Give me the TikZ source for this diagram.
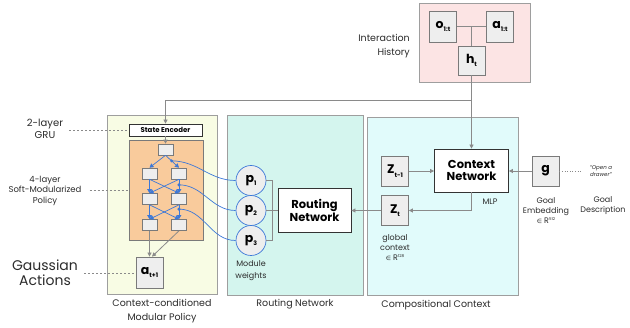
\documentclass[tikz,border=0pt]{standalone}
\usepackage{fontspec}
\setmainfont{Poppins}
\newfontfamily\symfont{DejaVu Sans}
\usetikzlibrary{arrows.meta,calc}

\definecolor{histfill}{HTML}{FCE4E4}
\definecolor{policyfill}{HTML}{F8FCE4}
\definecolor{modfill}{HTML}{F9CB9C}
\definecolor{routefill}{HTML}{D4F5EE}
\definecolor{ctxfill}{HTML}{E1FBFB}
\definecolor{boxfill}{HTML}{EEEEEE}
\definecolor{panelline}{HTML}{9E9E9E}
\definecolor{boxline}{HTML}{7A7A7A}
\definecolor{wire}{HTML}{8A8A8A}
\definecolor{modblue}{HTML}{3C78D8}
\definecolor{txt}{HTML}{2B2B2B}

% bold symbol with a small bold subscript
\newcommand{\symsub}[2]{{\fontsize{12.5}{12.5}\selectfont\bfseries #1\raisebox{-3.5pt}{\fontsize{6.2}{6.5}\selectfont #2}}}
\newcommand{\elemof}{{\symfont\fontsize{6}{6}\selectfont ∈}}

\tikzset{
  panel/.style={draw=panelline, line width=0.8pt, inner sep=0pt},
  vecbox/.style={draw=boxline, fill=boxfill, line width=0.8pt, minimum width=27pt, minimum height=30pt, inner sep=0pt},
  unit/.style={draw=boxline, fill=boxfill, line width=0.6pt, minimum width=15pt, minimum height=11pt, inner sep=0pt},
  netbox/.style={draw=black!80, fill=white, line width=0.8pt, minimum width=74pt, minimum height=43pt, inner sep=0pt, align=center, font=\fontsize{11.5}{12.5}\selectfont\bfseries},
  weight/.style={circle, draw=modblue, fill=boxfill, line width=0.7pt, minimum size=30pt, inner sep=0pt},
  lbl/.style={text=txt, align=center, inner sep=0pt},
  garr/.style={draw=wire, line width=0.8pt, -{Triangle[length=4pt,width=4pt]}},
  gline/.style={draw=wire, line width=0.8pt},
  barr/.style={draw=modblue, line width=0.7pt, -{Triangle[length=4pt,width=4.5pt]}},
  bline/.style={draw=modblue, line width=0.7pt},
  dashline/.style={draw=wire, line width=0.7pt, dash pattern=on 2pt off 2pt},
}

\begin{document}
\begin{tikzpicture}[x=1pt,y=-1pt]
\useasboundingbox (0,0) rectangle (630,328);

% ---------- panels ----------
\node[panel, fill=histfill, minimum width=111pt, minimum height=79pt] (hist) at (474.5,42.5) {};
\node[panel, fill=policyfill, minimum width=110pt, minimum height=179pt] (policy) at (162,204.5) {};
\node[panel, fill=routefill, minimum width=136pt, minimum height=180pt] (route) at (295,205) {};
\node[panel, fill=ctxfill, minimum width=151pt, minimum height=178pt] (ctx) at (442.5,206) {};

% ---------- interaction history ----------
\node[vecbox, minimum height=31pt] (o) at (443,26.5) {\symsub{o}{1:t}};
\node[vecbox, minimum height=31pt] (a) at (500,26.5) {\symsub{a}{1:t}};
\node[vecbox, minimum height=29pt] (h) at (471.5,60.5) {\symsub{h}{t}};
\draw[gline] (o.east) -- (a.west);
\coordinate (hmid) at ($(o.east)!0.5!(a.west)$);
\draw[gline] (hmid) -- (h.north);
\node[lbl, align=right, anchor=east, font=\fontsize{9.5}{14}\selectfont] (histlbl) at (410,46) {Interaction\\History};

% ---------- compositional context ----------
\node[netbox] (cn) at (471.5,170.5) {Context\\Network};
\node[vecbox] (zp) at (395,171) {\symsub{Z}{t-1}};
\node[vecbox] (zt) at (395,210.5) {\symsub{Z}{t}};
\node[vecbox] (g) at (545.5,171) {{\fontsize{12.5}{12.5}\selectfont\bfseries g}};
\node[lbl, font=\fontsize{8}{10}\selectfont] (mlp) at (490,202) {MLP};
\node[lbl, font=\fontsize{8}{10}\selectfont] (glob) at (395,248) {global\\context\\\elemof{} R\raisebox{3pt}{\fontsize{4}{4}\selectfont 128}};
\node[lbl, font=\fontsize{8}{10}\selectfont] (gemb) at (546,211) {Goal\\Embedding\\\elemof{} R\raisebox{3pt}{\fontsize{4}{4}\selectfont 512}};
\node[lbl, font=\fontsize{8}{10}\selectfont] (gdesc) at (603,206) {Goal\\Description};
\node[lbl, font=\fontsize{5.5}{7.5}\selectfont\itshape] (instr) at (601,171) {“Open a\\drawer”};
\draw[draw=wire, line width=0.6pt, dotted] (g.east) -- ([xshift=-9pt]instr.west);
\node[lbl, font=\fontsize{9.5}{14}\selectfont] at (436,305) {Compositional Context};

% ---------- routing network ----------
\node[netbox, minimum width=73pt, minimum height=44pt] (rn) at (314.5,210.5) {Routing\\Network};
\node[weight] (p1) at (251,180.5) {\symsub{p}{1}};
\node[weight] (p2) at (251,210.5) {\symsub{p}{2}};
\node[weight] (p3) at (251,240.5) {\symsub{p}{3}};
\coordinate (bus) at (272,210.5);
\draw[gline] (p1.east) -- (p1.east -| bus) -- (p3.east -| bus) -- (p3.east);
\draw[gline] (p2.east) -- (rn.west);
\node[lbl, font=\fontsize{8}{12}\selectfont] (mw) at (251,271) {Module\\weights};
\node[lbl, font=\fontsize{9.5}{14}\selectfont] at (295,304) {Routing Network};

% ---------- modular policy ----------
\node[draw=black!80, fill=white, line width=0.8pt, minimum width=73pt, minimum height=12pt, inner sep=0pt, font=\fontsize{7}{8}\selectfont\bfseries] (se) at (165.5,130) {State Encoder};
\node[draw=boxline, fill=modfill, line width=0.6pt, minimum width=74pt, minimum height=100pt, inner sep=0pt] (mods) at (166,190) {};
\node[unit] (T) at (165.5,149.5) {};
\node[unit] (L2L) at (149.5,173.5) {};
\node[unit] (L2R) at (179,173.5) {};
\node[unit] (L3L) at (149.5,199) {};
\node[unit] (L3R) at (179,199) {};
\node[unit] (L4L) at (149.5,225) {};
\node[unit] (L4R) at (179,225) {};
\node[vecbox, minimum height=31pt] (act) at (149.5,272.5) {\symsub{a}{t+1}};

% module-to-module connections
\draw[barr] (T.south) -- (L2L.north);
\draw[barr] (T.south) -- (L2R.north);
\foreach \u/\v in {L2L/L3L, L2L/L3R, L2R/L3L, L2R/L3R, L3L/L4L, L3L/L4R, L3R/L4L, L3R/L4R}
  \draw[barr] (\u.south) -- (\v.north);

% routing weights applied to the connections
\coordinate (d1) at ($(T.south)!0.45!(L2R.north)$);
\coordinate (d2) at ($(L2R.south)!0.4!(L3R.north)$);
\coordinate (d3) at ($(L3R.south)!0.3!(L4R.north)$);
\foreach \d in {d1,d2,d3} \fill[modblue] (\d) circle (1.7pt);
\draw[bline] (d1) to[out=0, in=180] (p1.west);
\draw[bline] (d2) to[out=0, in=180] (p2.west);
\draw[bline] (d3) to[out=0, in=180] (p3.west);

% output action
\draw[garr] (L4L.south) -- (L4L.south |- act.north);
\draw[garr] (L4R.south) -- ([xshift=2.5pt]act.north);

% state encoder feed
\draw[garr] (se.south) -- (se.south |- T.north);

% history to encoder and context network
\coordinate (split) at (471.5,100);
\draw[garr] (h.south) -- (cn.north);
\draw[garr] (split) -| (se.north);

% context network wiring
\draw[garr] (zp.east) -- (zp.east -| cn.west);
\draw[garr] (g.west) -- (g.west -| cn.east);
\draw[garr] (cn.south) |- (zt.east);
\draw[garr] (zt.west) -- (rn.east);

% side labels
\node[lbl, font=\fontsize{10}{12}\selectfont] (gru) at (45,129) {2-layer\\GRU};
\draw[dashline] ([xshift=6pt,yshift=-1pt]gru.east) -- ([yshift=-1pt]gru.east -| se.west);
\node[lbl, font=\fontsize{8.5}{10.5}\selectfont] (pol) at (45,190.5) {4-layer\\Soft-Modularized\\Policy};
\draw[dashline] ([xshift=8pt]pol.east) -- (pol.east -| mods.west);
\node[lbl, font=\fontsize{14}{15}\selectfont] (gauss) at (45,273) {Gaussian\\Actions};
\draw[dashline] ([xshift=6pt]gauss.east) -- (gauss.east -| act.west);
\node[lbl, font=\fontsize{9.5}{14}\selectfont] at (162,311) {Context-conditioned\\Modular Policy};

\end{tikzpicture}
\end{document}
